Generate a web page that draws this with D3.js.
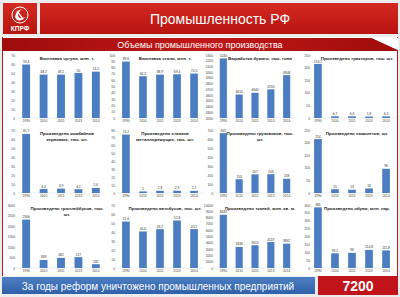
<!DOCTYPE html>
<html>
<head>
<meta charset="utf-8">
<script src="https://cdn.jsdelivr.net/npm/d3@7"></script>
<style>
  body { margin: 0; background: #ffffff; }
  svg { display: block; font-family: "Liberation Sans", Arial, sans-serif; }
</style>
</head>
<body>
<svg id="chart"></svg>
<script>
// years on the x axis of every small chart
var years = ["1990", "2010", "2011", "2013", "2014"];

// chart titles (lines)
var titles = [
  ["Выплавка чугуна, млн. т."],
  ["Выплавка стали, млн. т."],
  ["Выработка бумаги, тыс. тонн"],
  ["Произведено тракторов, тыс. шт."],
  ["Произведено комбайнов", "зерновых, тыс. шт."],
  ["Произведено станков", "металлорежущих, тыс. шт."],
  ["Произведено грузовиков, тыс.", "шт."],
  ["Произведено самолетов, шт."],
  ["Произведено троллейбусов, тыс.", "шт."],
  ["Произведено автобусов, тыс. шт."],
  ["Произведено тканей, млн. кв. м."],
  ["Произведено обуви, млн. пар."]
];

// values per chart
var ironValues = [59.4, 48.2, 48.2, 50, 51.5];
var steelValues = [89.6, 66.3, 68.9, 69.4, 70.5];
var paperValues = [5240, 4610, 4640, 4700, 4948];
var tractorValues = [214.2, 6.7, 6.6, 5.8, 6.4];
var combineValues = [65.7, 4.4, 4.9, 4.2, 5.6];
var lathesValues = [74.2, 2, 2.8, 2.9, 2.7];
var truckValues = [665, 153, 207, 209, 158];
var planeValues = [214, 15, 13, 18, 96];
var trolleyValues = [2306, 383, 482, 517, 181];
var busValues = [51.6, 40.6, 43.2, 52.8, 43.2];
var fabricValues = [8449, 3346, 3613, 4119, 3867];
var shoeValues = [385, 93.1, 96.0, 114.8, 111.8];

var allValues = [ironValues, steelValues, paperValues, tractorValues,
  combineValues, lathesValues, truckValues, planeValues,
  trolleyValues, busValues, fabricValues, shoeValues];

// y axis domain [min, max, step]
var yDomains = [
  [0, 70, 10], [0, 100, 10], [4200, 5300, 100], [0, 250, 50],
  [0, 70, 10], [0, 80, 10], [0, 700, 100], [0, 250, 50],
  [0, 3000, 500], [0, 70, 10], [0, 10000, 1000], [0, 400, 50]
];

var bottomText = "За годы реформ уничтожено промышленных предприятий";
var bottomNumber = "7200";

var width = 400, height = 297;
var svg = d3.select("#chart").attr("width", width).attr("height", height);

var defs = svg.append("defs");
var g1 = defs.append("linearGradient").attr("id", "redHead").attr("x1", 0).attr("y1", 0).attr("x2", 0).attr("y2", 1);
g1.append("stop").attr("offset", "0%").attr("stop-color", "#d42a22");
g1.append("stop").attr("offset", "100%").attr("stop-color", "#b8140f");
var g2 = defs.append("linearGradient").attr("id", "redSub").attr("x1", 0).attr("y1", 0).attr("x2", 1).attr("y2", 0);
g2.append("stop").attr("offset", "0%").attr("stop-color", "#9e0c0c");
g2.append("stop").attr("offset", "50%").attr("stop-color", "#c01818");
g2.append("stop").attr("offset", "100%").attr("stop-color", "#a00c0c");
var g3 = defs.append("linearGradient").attr("id", "blueBar").attr("x1", 0).attr("y1", 0).attr("x2", 0).attr("y2", 1);
g3.append("stop").attr("offset", "0%").attr("stop-color", "#4d7fc4");
g3.append("stop").attr("offset", "100%").attr("stop-color", "#2f60a8");

// page background
svg.append("rect").attr("width", width).attr("height", height).attr("fill", "#ececec");

// header: logo + title banner
svg.append("rect").attr("x", 3).attr("y", 3).attr("width", 34).attr("height", 31).attr("fill", "url(#redHead)");
svg.append("circle").attr("cx", 20).attr("cy", 15).attr("r", 8).attr("fill", "none").attr("stroke", "#fff").attr("stroke-width", 1);
svg.append("path").attr("d", "M15,17 Q16,10 22,9 Q18,12 18,16 Q20,20 25,17 Q22,22 17,20 Z").attr("fill", "#fff");
svg.append("path").attr("d", "M17,11 L23,19").attr("stroke", "#fff").attr("stroke-width", 1.3);
svg.append("text").attr("x", 20).attr("y", 31).attr("text-anchor", "middle")
  .attr("font-size", 6.5).attr("font-weight", "bold").attr("fill", "#fff").text("КПРФ");

svg.append("rect").attr("x", 40).attr("y", 3).attr("width", 358).attr("height", 31).attr("fill", "url(#redHead)");
svg.append("text").attr("x", 220).attr("y", 23.5).attr("text-anchor", "middle")
  .attr("font-size", 14).attr("fill", "#fff").text("Промышленность РФ");

// white panel
svg.append("rect").attr("x", 2).attr("y", 37).attr("width", 396).attr("height", 239).attr("fill", "#fff");
svg.append("line").attr("x1", 2.5).attr("x2", 2.5).attr("y1", 37).attr("y2", 276).attr("stroke", "#c0181a").attr("stroke-width", 1);
svg.append("line").attr("x1", 397.5).attr("x2", 397.5).attr("y1", 37).attr("y2", 276).attr("stroke", "#c0181a").attr("stroke-width", 1);

// subtitle bar
svg.append("path").attr("d", "M2,38 L372,38 L398,50 L398,51 L2,51 Z").attr("fill", "url(#redSub)");
svg.append("path").attr("d", "M372,38 L398,38 L398,50 Z").attr("fill", "#fff");
svg.append("text").attr("x", 200).attr("y", 48).attr("text-anchor", "middle")
  .attr("font-size", 9).attr("fill", "#fff").text("Объемы промышленного производства");

// small multiples
var colX = [5, 105, 203, 300];
var colRange = [[12, 100], [12, 98], [12, 92], [9, 95]];
var titleX = [62, 60, 57, 57];
var rowY = [52, 127, 202];

allValues.forEach(function (vals, i) {
  var col = i % 4, row = Math.floor(i / 4);
  var cx = colX[col], cy = rowY[row];
  var dom = yDomains[i];
  var g = svg.append("g");

  var x = d3.scaleBand().domain(years)
    .range([cx + colRange[col][0], cx + colRange[col][1]])
    .paddingInner(0.55).paddingOuter(0.3);
  var y = d3.scaleLinear().domain([dom[0], dom[1]]).range([cy + 66, cy + 3]);

  // y axis ticks
  var ticks = d3.range(dom[0], dom[1] + dom[2] / 2, dom[2]);
  var yAxis = d3.axisLeft(y).tickValues(ticks).tickSize(0).tickPadding(0)
    .tickFormat(d3.format("d"));
  g.append("g").attr("transform", "translate(" + (cx + 10) + ",0)").call(yAxis)
    .call(function (a) { a.select(".domain").remove(); })
    .selectAll("text").attr("font-size", 3.3).attr("fill", "#444");

  // baseline
  g.append("line").attr("x1", x.range()[0]).attr("x2", x.range()[1])
    .attr("y1", y(dom[0])).attr("y2", y(dom[0])).attr("stroke", "#d0d0d0").attr("stroke-width", 0.4);

  // x axis
  var xAxis = d3.axisBottom(x).tickSize(0).tickPadding(2);
  g.append("g").attr("transform", "translate(0," + (cy + 66) + ")").call(xAxis)
    .call(function (a) { a.select(".domain").remove(); })
    .selectAll("text").attr("font-size", 3.3).attr("fill", "#444");

  // bars
  g.selectAll("rect.bar").data(vals).join("rect").attr("class", "bar")
    .attr("x", function (d, j) { return x(years[j]); })
    .attr("width", x.bandwidth())
    .attr("y", function (d) { return y(d); })
    .attr("height", function (d) { return y(dom[0]) - y(d); })
    .attr("fill", "#4a7dc2");

  // value labels
  g.selectAll("text.val").data(vals).join("text").attr("class", "val")
    .attr("x", function (d, j) { return x(years[j]) + x.bandwidth() / 2; })
    .attr("y", function (d) { return y(d) - 1.5; })
    .attr("text-anchor", "middle").attr("font-size", 3.3).attr("fill", "#333")
    .text(function (d) { return String(d).replace(".", ","); });

  // title
  g.selectAll("text.title").data(titles[i]).join("text").attr("class", "title")
    .attr("x", cx + titleX[col]).attr("y", function (d, k) { return cy + 8 + k * 6; })
    .attr("text-anchor", "middle").attr("font-size", 4.4).attr("font-weight", "bold")
    .attr("fill", "#222").text(function (d) { return d; });
});

// bottom banner
svg.append("rect").attr("x", 2).attr("y", 277).attr("width", 313).attr("height", 17).attr("fill", "url(#blueBar)");
svg.append("text").attr("x", 158).attr("y", 289.5).attr("text-anchor", "middle")
  .attr("font-size", 10).attr("fill", "#fff").text(bottomText);
svg.append("rect").attr("x", 318).attr("y", 276).attr("width", 80).attr("height", 19).attr("fill", "#c0131a");
svg.append("text").attr("x", 358).attr("y", 291).attr("text-anchor", "middle")
  .attr("font-size", 14).attr("font-weight", "bold").attr("fill", "#fff").text(bottomNumber);
</script>
</body>
</html>
